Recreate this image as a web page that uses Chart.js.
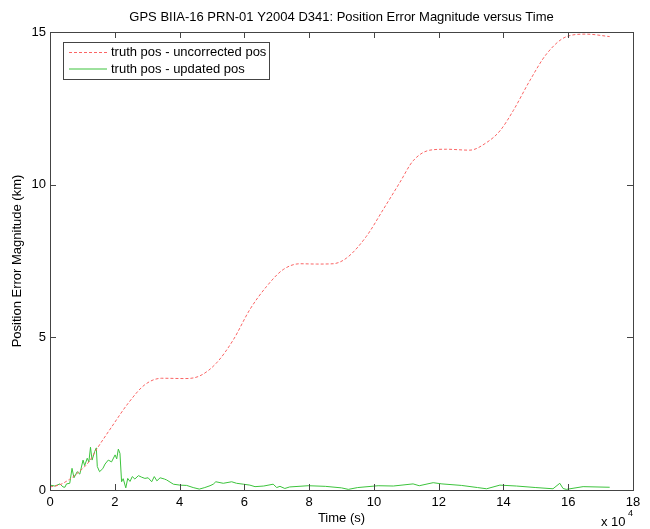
<!DOCTYPE html>
<html>
<head>
<meta charset="utf-8">
<script src="https://cdn.jsdelivr.net/npm/chart.js@4"></script>
<style>
  html, body { margin: 0; padding: 0; background: #fff; }
  #wrap { width: 650px; height: 529px; }
</style>
</head>
<body>
<div id="wrap"><canvas id="myChart" width="650" height="529"></canvas></div>
<script>
// time in units of 1e4 s, error in km
const uncorrTime = [0, 0.3, 0.6, 0.9, 1.2, 1.45, 1.9, 2.42, 2.93, 3.45, 4.17, 4.63, 5.14, 5.66, 6.17, 6.69, 7.2, 7.72, 8.23, 8.74, 9.16, 9.77, 10.29, 10.8, 11.21, 11.73, 12.24, 12.96, 13.48, 13.89, 14.3, 14.81, 15.33, 15.95, 16.56, 17.28]
const uncorrErr = [0.1, 0.17, 0.35, 0.6, 0.92, 1.35, 2.06, 2.85, 3.45, 3.66, 3.65, 3.74, 4.16, 4.92, 5.91, 6.67, 7.22, 7.41, 7.4, 7.41, 7.6, 8.31, 9.19, 10.07, 10.78, 11.13, 11.16, 11.13, 11.38, 11.76, 12.42, 13.4, 14.28, 14.85, 14.93, 14.85]

const updTime = [0, 0.15, 0.31, 0.4, 0.46, 0.51, 0.61, 0.68, 0.74, 0.84, 0.92, 1.02, 1.07, 1.15, 1.2, 1.25, 1.3, 1.38, 1.43, 1.46, 1.53, 1.63, 1.7, 1.8, 1.9, 2.01, 2.06, 2.11, 2.16, 2.21, 2.26, 2.34, 2.4, 2.47, 2.54, 2.62, 2.73, 2.83, 2.93, 3.03, 3.14, 3.22, 3.3, 3.4, 3.53, 3.6, 3.81, 4.01, 4.22, 4.42, 4.61, 4.78, 4.94, 5.04, 5.12, 5.35, 5.61, 5.76, 5.97, 6.17, 6.33, 6.6, 6.89, 7.0, 7.1, 7.25, 7.4, 7.97, 8.5, 9.0, 9.21, 9.5, 10.13, 10.6, 11.21, 11.4, 11.83, 12.1, 12.7, 13.2, 13.48, 13.89, 14.4, 15.0, 15.53, 15.74, 15.84, 15.94, 16.46, 17.28]
const updErr = [0.16, 0.13, 0.2, 0.1, 0.09, 0.2, 0.22, 0.71, 0.4, 0.6, 0.52, 0.98, 0.8, 1.04, 0.92, 1.4, 0.98, 1.26, 1.38, 0.77, 0.6, 0.7, 0.85, 0.98, 0.92, 1.15, 1.02, 1.34, 1.2, 0.27, 0.37, 0.07, 0.38, 0.28, 0.44, 0.36, 0.47, 0.42, 0.38, 0.4, 0.27, 0.44, 0.3, 0.4, 0.36, 0.33, 0.19, 0.16, 0.15, 0.08, 0.03, 0.08, 0.14, 0.19, 0.27, 0.22, 0.27, 0.22, 0.19, 0.16, 0.11, 0.13, 0.19, 0.08, 0.12, 0.05, 0.1, 0.14, 0.12, 0.07, 0.02, 0.08, 0.14, 0.13, 0.2, 0.14, 0.24, 0.2, 0.15, 0.08, 0.04, 0.16, 0.13, 0.08, 0.04, 0.22, 0.05, 0.02, 0.11, 0.09]

const xTicks = [0, 2, 4, 6, 8, 10, 12, 14, 16, 18]
const yTicks = [0, 5, 10, 15]
const seriesLabels = ['truth pos - uncorrected pos', 'truth pos - updated pos']
const titleText = 'GPS BIIA-16 PRN-01 Y2004 D341: Position Error Magnitude versus Time'

const FONT = 'Liberation Sans, Arial, Helvetica, sans-serif'
const frameColor = '#444'

const toPoints = (xs, ys) => xs.map((x, i) => ({ x: x, y: ys[i] }))

// matlab-ish frame, inward ticks, title, legend box and the x10^4 note
const matlabBits = {
    id: 'matlabBits',
    afterDraw(chart) {
        const ctx = chart.ctx
        const a = chart.chartArea
        const xs = chart.scales.x
        const ys = chart.scales.y
        ctx.save()
        ctx.strokeStyle = frameColor
        ctx.lineWidth = 1
        ctx.setLineDash([])
        ctx.strokeRect(a.left + 0.5, a.top + 0.5, a.right - a.left, a.bottom - a.top)

        ctx.beginPath()
        xTicks.forEach(t => {
            const px = Math.round(xs.getPixelForValue(t)) + 0.5
            ctx.moveTo(px, a.bottom); ctx.lineTo(px, a.bottom - 6)
            ctx.moveTo(px, a.top); ctx.lineTo(px, a.top + 6)
        })
        yTicks.forEach(t => {
            const py = Math.round(ys.getPixelForValue(t)) + 0.5
            ctx.moveTo(a.left, py); ctx.lineTo(a.left + 6, py)
            ctx.moveTo(a.right, py); ctx.lineTo(a.right - 6, py)
        })
        ctx.stroke()

        // title
        ctx.fillStyle = '#000'
        ctx.font = '13px ' + FONT
        ctx.textAlign = 'center'
        ctx.textBaseline = 'middle'
        ctx.fillText(titleText, (a.left + a.right) / 2, 17)

        // x 10^4
        ctx.textAlign = 'left'
        ctx.font = '13px ' + FONT
        ctx.fillText('x 10', 601, 522)
        ctx.font = '9px ' + FONT
        ctx.fillText('4', 628, 514)

        // legend
        const lx = a.left + 13, ly = a.top + 10, lw = 206, lh = 37
        ctx.fillStyle = '#fff'
        ctx.fillRect(lx, ly, lw, lh)
        ctx.strokeStyle = frameColor
        ctx.strokeRect(lx + 0.5, ly + 0.5, lw, lh)
        chart.data.datasets.forEach((ds, i) => {
            const yy = ly + 10.5 + i * 16.5
            ctx.strokeStyle = ds.borderColor
            ctx.lineWidth = ds.borderWidth
            ctx.setLineDash(ds.borderDash || [])
            ctx.beginPath()
            ctx.moveTo(lx + 6, yy); ctx.lineTo(lx + 44, yy)
            ctx.stroke()
            ctx.setLineDash([])
            ctx.fillStyle = '#000'
            ctx.font = '13px ' + FONT
            ctx.textBaseline = 'middle'
            ctx.fillText(ds.label, lx + 48, yy)
        })
        ctx.restore()
    }
}

const data = {
    datasets: [{
        label: seriesLabels[0],
        data: toPoints(uncorrTime, uncorrErr),
        borderColor: 'rgb(250, 100, 100)',
        borderWidth: 1,
        borderDash: [3, 2],
        pointRadius: 0,
        cubicInterpolationMode: 'monotone',
        fill: false
    }, {
        label: seriesLabels[1],
        data: toPoints(updTime, updErr),
        borderColor: 'rgb(60, 195, 60)',
        borderWidth: 1,
        pointRadius: 0,
        tension: 0,
        fill: false
    }]
}

const config = {
    type: 'line',
    data: data,
    options: {
        responsive: false,
        animation: false,
        layout: { padding: { top: 32, right: 17, left: 0, bottom: 0 } },
        plugins: {
            legend: { display: false },
            title: { display: false },
            tooltip: { enabled: false }
        },
        scales: {
            x: {
                type: 'linear',
                min: 0,
                max: 18,
                afterBuildTicks: scale => { scale.ticks = xTicks.map(v => ({ value: v })) },
                afterFit: scale => { scale.height = 39 },
                grid: { display: false, drawTicks: false },
                border: { display: false },
                ticks: { color: '#000', padding: 5, font: { family: FONT, size: 13 } },
                title: {
                    display: true,
                    text: 'Time (s)',
                    color: '#000',
                    font: { family: FONT, size: 13 },
                    padding: { top: 0, bottom: 3 }
                }
            },
            y: {
                min: 0,
                max: 15,
                afterBuildTicks: scale => { scale.ticks = yTicks.map(v => ({ value: v })) },
                afterFit: scale => { scale.width = 50 },
                grid: { display: false, drawTicks: false },
                border: { display: false },
                ticks: { color: '#000', padding: 4, font: { family: FONT, size: 13 } },
                title: {
                    display: true,
                    text: 'Position Error Magnitude (km)',
                    color: '#000',
                    font: { family: FONT, size: 13 },
                    padding: { top: 10, bottom: 0 }
                }
            }
        }
    },
    plugins: [matlabBits]
}

const myChart = new Chart(document.getElementById('myChart'), config)
</script>
</body>
</html>
